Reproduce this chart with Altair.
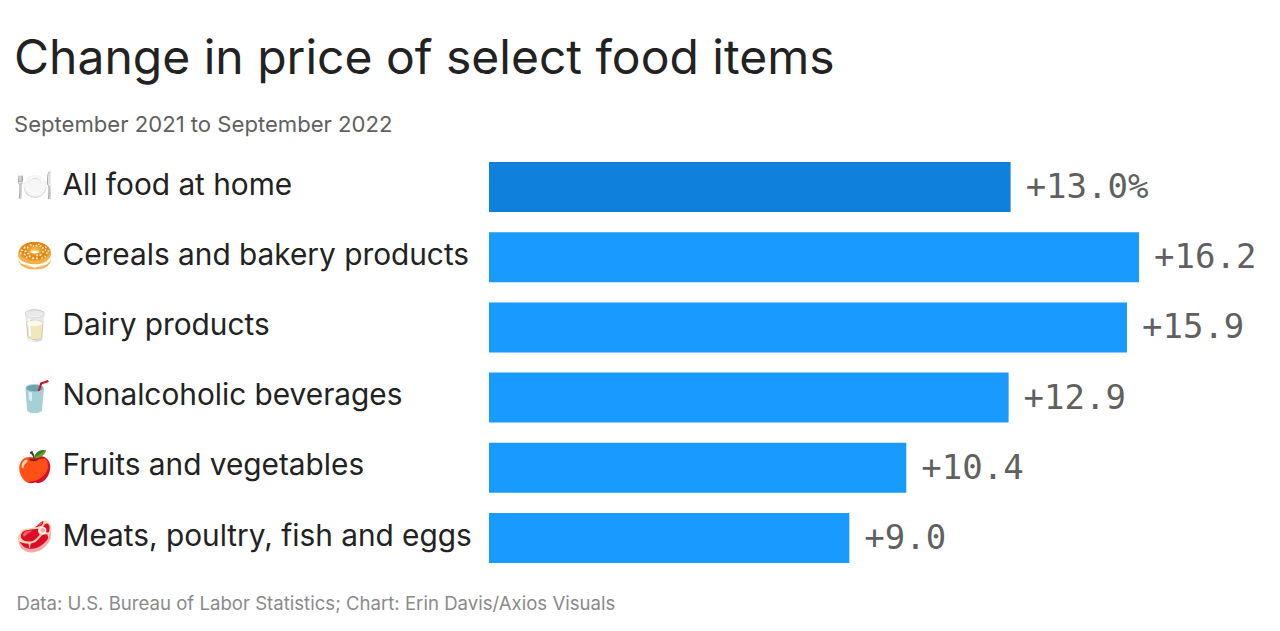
import altair as alt
import pandas as pd

categories = ["All food at home", "Cereals and bakery products", "Dairy products",
              "Nonalcoholic beverages", "Fruits and vegetables", "Meats, poultry, fish and eggs"]
values = [13.0, 16.2, 15.9, 12.95, 10.4, 8.98]
labels = ["+13.0%", "+16.2", "+15.9", "+12.9", "+10.4", "+9.0"]
emoji = ["🍽️", "🥯", "🥛", "🥤", "🍎", "🥩"]
groups = ["all", "item", "item", "item", "item", "item"]

df = pd.DataFrame({"category": categories, "value": values, "label": labels,
                   "emoji": emoji, "group": groups})

SANS = "Inter"
MONO = "DejaVu Sans Mono"

y = alt.Y("category:N", sort=categories, title=None,
          scale=alt.Scale(paddingInner=0.288, paddingOuter=0.144),
          axis=alt.Axis(labelAlign="left", labelPadding=427, labelFont=SANS, labelFontSize=29.8,
                        labelColor="#222222", labelOffset=-1.4, ticks=False, domain=False,
                        labelLimit=460, grid=False))
x = alt.X("value:Q", scale=alt.Scale(domain=[0, 19.19], nice=False),
          axis=alt.Axis(labels=False, ticks=False, domain=False, grid=False,
                        title="Data: U.S. Bureau of Labor Statistics; Chart: Erin Davis/Axios Visuals",
                        titleFont=SANS, titleFontSize=18.6, titleFontWeight="normal",
                        titleColor="#8a8a8a", titleAnchor="start", titleAlign="left",
                        titleX=-473, titleY=30, titleBaseline="middle"))

bars = alt.Chart(df).mark_bar(size=50).encode(
    x=x, y=y,
    color=alt.Color("group:N", legend=None,
                    scale=alt.Scale(domain=["all", "item"], range=["#0f80dc", "#189aff"])))
text = alt.Chart(df).mark_text(align="left", baseline="middle", dx=15, dy=1, font=MONO,
                               fontSize=34, color="#606060").encode(
    x="value:Q", y=alt.Y("category:N", sort=categories), text="label:N")
icons = alt.Chart(df).mark_text(align="left", baseline="middle", dx=-1, fontSize=30).encode(
    x=alt.value(-472), y=alt.Y("category:N", sort=categories), text="emoji:N")

chart = (bars + text + icons).properties(
    width=770, height=421,
    autosize=alt.AutoSizeParams(type="none"),
    padding={"left": 481, "top": 144, "right": 5, "bottom": 50},
    background="#ffffff",
    title=alt.TitleParams("Change in price of select food items",
                          subtitle="September 2021 to September 2022",
                          anchor="start", frame="group", dx=-475, offset=16,
                          font=SANS, fontSize=48, fontWeight="normal", color="#222222",
                          subtitleFont=SANS, subtitleFontSize=22.1, subtitleColor="#5f5f5f",
                          subtitlePadding=31),
).configure_view(stroke=None)

chart.save("out.html", embed_options={"renderer": "svg", "actions": False})
